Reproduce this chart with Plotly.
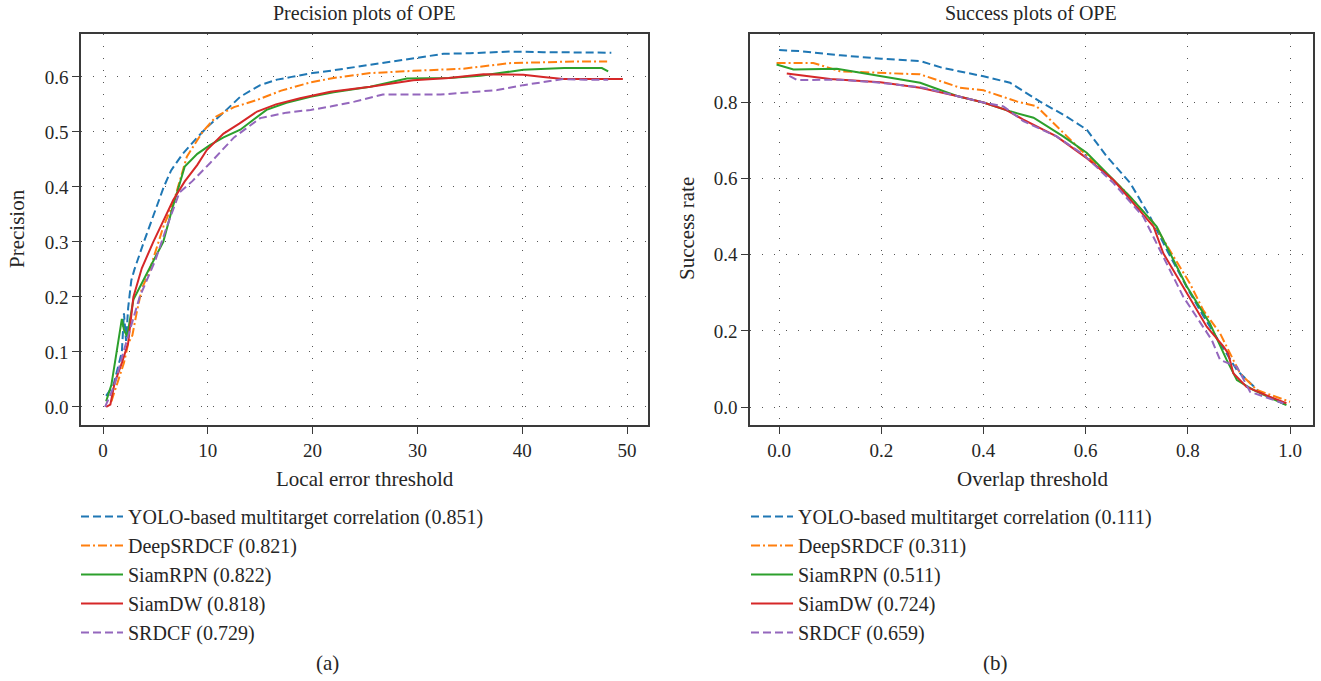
import plotly.graph_objects as go

W, H = 1321, 681

# ---------------- data ----------------
names_a = ["YOLO-based multitarget correlation (0.851)", "DeepSRDCF (0.821)",
           "SiamRPN (0.822)", "SiamDW (0.818)", "SRDCF (0.729)"]
names_b = ["YOLO-based multitarget correlation (0.111)", "DeepSRDCF (0.311)",
           "SiamRPN (0.511)", "SiamDW (0.724)", "SRDCF (0.659)"]

# Precision plots (local error threshold vs precision)
yolo_px = [0.3, 1.0, 1.8, 2.0, 2.2, 2.4, 2.7, 3.0, 3.9, 5.0, 5.8, 6.5, 7.6, 9.0, 10.0, 11.5, 13.1, 15.0, 16.6,
           18.0, 20.0, 22.0, 25.5, 28.0, 30.0, 32.5, 35.0, 38.8, 42.0, 45.0, 48.5]
yolo_py = [0.02, 0.04, 0.10, 0.17, 0.12, 0.18, 0.23, 0.25, 0.30, 0.36, 0.40, 0.43, 0.46, 0.49, 0.51, 0.535, 0.564,
           0.585, 0.595, 0.600, 0.607, 0.612, 0.622, 0.628, 0.635, 0.642, 0.643, 0.646, 0.645, 0.644, 0.644]

deep_px = [0.8, 1.5, 2.0, 2.4, 2.8, 3.2, 3.7, 4.3, 5.1, 5.8, 6.7, 8.0, 9.5, 10.8, 12.5, 14.7, 17.0, 19.8, 22.0,
           25.5, 29.6, 34.4, 38.8, 42.0, 45.0, 48.1]
deep_py = [0.01, 0.05, 0.08, 0.115, 0.13, 0.17, 0.215, 0.24, 0.29, 0.33, 0.37, 0.455, 0.50, 0.528, 0.545, 0.558,
           0.575, 0.59, 0.598, 0.607, 0.611, 0.615, 0.625, 0.627, 0.628, 0.628]

rpn_px = [0.3, 0.8, 1.3, 1.8, 2.0, 2.3, 2.9, 3.6, 4.6, 5.75, 6.6, 7.8, 9.0, 10.2, 11.5, 13.1, 15.6, 17.5, 19.8,
          22.0, 25.5, 29.0, 33.0, 36.0, 40.1, 44.0, 47.6, 48.2]
rpn_py = [0.01, 0.04, 0.10, 0.16, 0.14, 0.128, 0.195, 0.22, 0.258, 0.30, 0.36, 0.437, 0.46, 0.476, 0.49, 0.504,
          0.54, 0.553, 0.564, 0.572, 0.582, 0.597, 0.598, 0.602, 0.613, 0.616, 0.616, 0.61]

dw_px = [0.3, 0.7, 1.1, 1.8, 2.4, 2.9, 3.7, 4.8, 5.8, 6.7, 7.8, 9.0, 9.9, 11.5, 13.0, 14.7, 16.5, 18.8, 21.7,
         25.5, 29.6, 33.0, 36.3, 40.1, 42.0, 43.9, 47.0, 49.6]
dw_py = [0.0, 0.004, 0.043, 0.08, 0.116, 0.20, 0.252, 0.30, 0.34, 0.376, 0.41, 0.44, 0.467, 0.497, 0.515, 0.537,
         0.55, 0.561, 0.573, 0.582, 0.594, 0.598, 0.605, 0.604, 0.60, 0.596, 0.596, 0.596]

srdcf_px = [0.2, 1.1, 1.8, 2.6, 3.5, 5.0, 6.1, 7.3, 8.5, 10.2, 12.5, 15.0, 17.5, 19.8, 21.7, 24.0, 26.7, 29.0,
            32.2, 35.0, 37.6, 40.1, 43.9, 46.0, 48.2]
srdcf_py = [0.0, 0.04, 0.09, 0.14, 0.20, 0.267, 0.328, 0.39, 0.41, 0.443, 0.49, 0.525, 0.535, 0.54, 0.546, 0.555,
            0.568, 0.568, 0.568, 0.572, 0.576, 0.585, 0.596, 0.595, 0.595]

# Success plots (overlap threshold vs success rate)
yolo_sx = [0.0, 0.04, 0.12, 0.2, 0.276, 0.32, 0.4, 0.452, 0.51, 0.56, 0.602, 0.641, 0.687, 0.726, 0.76, 0.8,
           0.83, 0.856, 0.896, 0.94, 0.993]
yolo_sy = [0.938, 0.935, 0.924, 0.915, 0.909, 0.891, 0.869, 0.852, 0.803, 0.765, 0.729, 0.659, 0.589, 0.50, 0.41,
           0.31, 0.24, 0.185, 0.097, 0.04, 0.005]

deep_sx = [-0.005, 0.067, 0.119, 0.198, 0.276, 0.354, 0.40, 0.445, 0.465, 0.504, 0.55, 0.596, 0.674, 0.733, 0.77,
           0.804, 0.83, 0.863, 0.902, 0.935, 1.0]
deep_sy = [0.904, 0.904, 0.882, 0.878, 0.874, 0.839, 0.832, 0.812, 0.803, 0.79, 0.729, 0.668, 0.571, 0.483, 0.40,
           0.325, 0.255, 0.194, 0.089, 0.045, 0.014]

rpn_sx = [-0.005, 0.028, 0.113, 0.198, 0.276, 0.348, 0.40, 0.452, 0.498, 0.556, 0.602, 0.641, 0.687, 0.739, 0.77,
          0.798, 0.843, 0.876, 0.896, 0.928, 0.993]
rpn_sy = [0.90, 0.887, 0.889, 0.869, 0.852, 0.817, 0.80, 0.777, 0.76, 0.711, 0.668, 0.615, 0.553, 0.474, 0.39,
          0.317, 0.22, 0.124, 0.071, 0.045, 0.005]

dw_sx = [0.015, 0.1, 0.198, 0.276, 0.348, 0.40, 0.445, 0.478, 0.543, 0.602, 0.654, 0.694, 0.733, 0.752, 0.791,
         0.837, 0.87, 0.879, 0.889, 0.915, 0.961, 0.993]
dw_sy = [0.876, 0.862, 0.853, 0.839, 0.817, 0.80, 0.78, 0.755, 0.711, 0.654, 0.597, 0.536, 0.474, 0.404, 0.317,
         0.211, 0.159, 0.141, 0.089, 0.053, 0.027, 0.01]

srdcf_sx = [0.02, 0.035, 0.119, 0.198, 0.282, 0.348, 0.40, 0.439, 0.478, 0.543, 0.596, 0.654, 0.713, 0.75, 0.791,
            0.847, 0.863, 0.896, 0.922, 0.987]
srdcf_sy = [0.87, 0.859, 0.86, 0.852, 0.839, 0.817, 0.80, 0.79, 0.751, 0.711, 0.663, 0.589, 0.50, 0.40, 0.29,
            0.176, 0.124, 0.106, 0.04, 0.01]

x_ticks_a = [0, 10, 20, 30, 40, 50]
y_ticks_a = [0.0, 0.1, 0.2, 0.3, 0.4, 0.5, 0.6]
x_ticks_b = [0.0, 0.2, 0.4, 0.6, 0.8, 1.0]
y_ticks_b = [0.0, 0.2, 0.4, 0.6, 0.8]

# ---------------- style ----------------
colors = ["#1f77b4", "#ff7f0e", "#2ca02c", "#d62728", "#9467bd"]
dashes = ["8px,4px", "9px,3px,2px,3px", "solid", "solid", "8px,4px"]
FONT = "Liberation Serif"
TXT = "#262626"
AX = "#3a3a3a"

prec = [(yolo_px, yolo_py), (deep_px, deep_py), (rpn_px, rpn_py), (dw_px, dw_py), (srdcf_px, srdcf_py)]
succ = [(yolo_sx, yolo_sy), (deep_sx, deep_sy), (rpn_sx, rpn_sy), (dw_sx, dw_sy), (srdcf_sx, srdcf_sy)]

fig = go.Figure()
for i, (xs, ys) in enumerate(prec):
    fig.add_trace(go.Scatter(x=xs, y=ys, mode="lines", name=names_a[i],
                             line=dict(color=colors[i], width=2, dash=dashes[i]),
                             xaxis="x", yaxis="y", legend="legend"))
for i, (xs, ys) in enumerate(succ):
    fig.add_trace(go.Scatter(x=xs, y=ys, mode="lines", name=names_b[i],
                             line=dict(color=colors[i], width=2, dash=dashes[i]),
                             xaxis="x2", yaxis="y2", legend="legend2"))

def px(p):
    return p / W

def py(p):
    return 1 - p / H

axis_common = dict(showline=True, linecolor=AX, linewidth=1.5, mirror=True,
                   ticks="outside", ticklen=7, tickwidth=1.3, tickcolor=AX,
                   showgrid=True, gridcolor="#555555", gridwidth=1.3, griddash="1.3px,10.7px",
                   zeroline=False, tickfont=dict(family=FONT, size=19, color=TXT))

LEG_FONT = dict(family=FONT, size=20, color=TXT)
ydom = [py(425), py(34)]
fig.update_layout(
    width=W, height=H,
    margin=dict(l=0, r=0, t=0, b=0),
    paper_bgcolor="white", plot_bgcolor="white",
    font=dict(family=FONT, color=TXT),
    showlegend=True,
    xaxis=dict(domain=[px(81), px(648)], range=[-2.1, 52.0], tickvals=x_ticks_a,
               ticktext=[str(v) for v in x_ticks_a], anchor="y", **axis_common),
    yaxis=dict(domain=ydom, range=[-0.033, 0.678], tickvals=y_ticks_a,
               ticktext=["%.1f" % v for v in y_ticks_a], anchor="x", **axis_common),
    xaxis2=dict(domain=[px(750), px(1313)], range=[-0.057, 1.045], tickvals=x_ticks_b,
                ticktext=["%.1f" % v for v in x_ticks_b], anchor="y2", **axis_common),
    yaxis2=dict(domain=ydom, range=[-0.047, 0.98], tickvals=y_ticks_b,
                ticktext=["%.1f" % v for v in y_ticks_b], anchor="x2", **axis_common),
    legend=dict(x=px(76), y=py(497), xanchor="left", yanchor="top",
                font=LEG_FONT, bgcolor="rgba(0,0,0,0)", itemwidth=42),
    legend2=dict(x=px(746), y=py(497), xanchor="left", yanchor="top",
                 font=LEG_FONT, bgcolor="rgba(0,0,0,0)", itemwidth=42),
)

ann = [
    dict(text="Precision plots of OPE", x=px(364.5), y=py(13), size=20, angle=0),
    dict(text="Success plots of OPE", x=px(1031), y=py(13), size=20, angle=0),
    dict(text="Local error threshold", x=px(364.5), y=py(479), size=21, angle=0),
    dict(text="Overlap threshold", x=px(1033), y=py(479), size=21, angle=0),
    dict(text="Precision", x=px(17), y=py(229), size=21, angle=-90),
    dict(text="Success rate", x=px(687), y=py(229), size=21, angle=-90),
    dict(text="(a)", x=px(327), y=py(663), size=21, angle=0),
    dict(text="(b)", x=px(995), y=py(663), size=21, angle=0),
]
for a in ann:
    fig.add_annotation(text=a["text"], x=a["x"], y=a["y"], xref="paper", yref="paper",
                       xanchor="center", yanchor="middle", showarrow=False, textangle=a["angle"],
                       font=dict(family=FONT, size=a["size"], color=TXT))

fig.write_html("out.html")
